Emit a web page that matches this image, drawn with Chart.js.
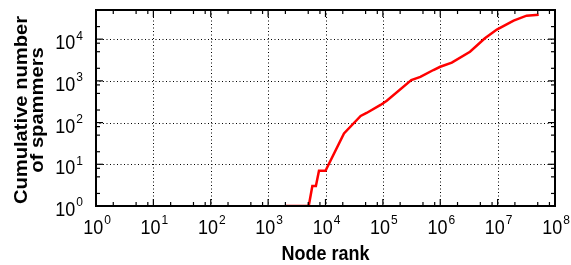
<!DOCTYPE html>
<html lang="en">
<head>
    <meta charset="UTF-8">
    <title>Cumulative number of spammers by node rank</title>
    <script src="https://cdn.jsdelivr.net/npm/chart.js"></script>
    <style>
        html, body {
            margin: 0;
            padding: 0;
            background: #ffffff;
        }
        #rankChart {
            display: block;
        }
    </style>
</head>
<body>
    <canvas id="rankChart" width="571" height="265"></canvas>
    <script>
        // values
        const nodeRank = [2000, 5100, 5900, 6800, 7700, 10000, 21000, 41000, 52000, 91000, 117000,
            313000, 450000, 760000, 1000000, 1590000, 3300000, 6000000, 9700000, 19000000, 32000000, 52000000];
        const spammers = [1, 1, 3, 3, 7, 7, 55, 144, 170, 265, 335,
            1040, 1240, 1820, 2180, 2740, 5000, 10500, 17000, 27800, 36500, 38500];

        const xExponents = [0, 1, 2, 3, 4, 5, 6, 7, 8];
        const yExponents = [0, 1, 2, 3, 4];
        const minorSteps = [2, 5, 8];

        const FONT = '"Liberation Sans", Arial, Helvetica, sans-serif';
        const STRETCH = 1.12;

        function drawPower(ctx, x, baseline, exp, align) {
            ctx.save();
            ctx.font = '18px ' + FONT;
            const wBase = ctx.measureText('10').width;
            ctx.font = '12px ' + FONT;
            const wExp = ctx.measureText(String(exp)).width;
            const total = wBase + 1 + wExp;
            let left = x - total / 2 + 1;
            if (align === 'right') left = x - total;
            ctx.translate(left, baseline);
            ctx.scale(1, STRETCH);
            ctx.fillStyle = '#000';
            ctx.textAlign = 'left';
            ctx.textBaseline = 'alphabetic';
            ctx.font = '18px ' + FONT;
            ctx.fillText('10', 0, 0);
            ctx.font = '12px ' + FONT;
            ctx.fillText(String(exp), wBase + 1, -8.5);
            ctx.restore();
        }

        const frame = {
            id: 'frame',
            beforeDatasetsDraw(chart) {
                const ctx = chart.ctx;
                const a = chart.chartArea;
                const xs = chart.scales.x, ys = chart.scales.y;
                ctx.save();
                ctx.strokeStyle = '#000';
                ctx.lineWidth = 1;
                ctx.setLineDash([1, 2.5]);
                xExponents.slice(1, -1).forEach(e => {
                    const px = Math.round(xs.getPixelForValue(Math.pow(10, e))) + 0.5;
                    ctx.beginPath();
                    ctx.moveTo(px, a.top);
                    ctx.lineTo(px, a.bottom);
                    ctx.stroke();
                });
                yExponents.slice(1).forEach(e => {
                    const py = Math.round(ys.getPixelForValue(Math.pow(10, e))) + 0.5;
                    ctx.beginPath();
                    ctx.moveTo(a.left, py);
                    ctx.lineTo(a.right, py);
                    ctx.stroke();
                });
                ctx.restore();
            },
            afterDatasetsDraw(chart) {
                const ctx = chart.ctx;
                const a = chart.chartArea;
                const xs = chart.scales.x, ys = chart.scales.y;
                ctx.save();
                ctx.strokeStyle = '#000';
                ctx.lineWidth = 1.2;

                // tick marks on all four sides, pointing inward
                const tick = (x1, y1, x2, y2) => {
                    ctx.beginPath();
                    ctx.moveTo(x1, y1);
                    ctx.lineTo(x2, y2);
                    ctx.stroke();
                };
                xExponents.forEach(e => {
                    const vals = [[Math.pow(10, e), 7]];
                    if (e < 8) minorSteps.forEach(m => vals.push([m * Math.pow(10, e), 4]));
                    vals.forEach(([v, len]) => {
                        const px = xs.getPixelForValue(v);
                        tick(px, a.bottom, px, a.bottom - len);
                        tick(px, a.top, px, a.top + len);
                    });
                });
                yExponents.forEach(e => {
                    const vals = [[Math.pow(10, e), 7]];
                    minorSteps.forEach(m => vals.push([m * Math.pow(10, e), 4]));
                    vals.forEach(([v, len]) => {
                        if (v > ys.max) return;
                        const py = ys.getPixelForValue(v);
                        tick(a.left, py, a.left + len, py);
                        tick(a.right, py, a.right - len, py);
                    });
                });

                // frame
                ctx.lineWidth = 2;
                ctx.strokeRect(a.left, a.top, a.right - a.left, a.bottom - a.top);
                ctx.restore();

                // tick labels
                xExponents.forEach(e => {
                    drawPower(ctx, xs.getPixelForValue(Math.pow(10, e)), a.bottom + 28, e, 'center');
                });
                yExponents.forEach(e => {
                    drawPower(ctx, a.left - 13, ys.getPixelForValue(Math.pow(10, e)) + 10, e, 'right');
                });

                // axis titles
                ctx.save();
                ctx.fillStyle = '#000';
                ctx.textAlign = 'center';
                ctx.textBaseline = 'alphabetic';
                ctx.font = 'bold 18px ' + FONT;
                ctx.save();
                ctx.translate((a.left + a.right) / 2, 260);
                ctx.scale(1, STRETCH);
                ctx.fillText('Node rank', 0, 0);
                ctx.restore();

                ctx.translate(0, (a.top + a.bottom) / 2 + 2);
                ctx.rotate(-Math.PI / 2);
                ctx.scale(STRETCH, 1);
                ctx.fillText('Cumulative number', 0, 27);
                ctx.fillText('of spammers', 0, 43);
                ctx.restore();
            }
        };

        new Chart(document.getElementById('rankChart'), {
            type: 'line',
            data: {
                datasets: [{
                    data: nodeRank.map((r, i) => ({ x: r, y: spammers[i] })),
                    borderColor: '#ff0000',
                    borderWidth: 2.5,
                    pointRadius: 0,
                    tension: 0,
                    fill: false
                }]
            },
            options: {
                responsive: false,
                animation: false,
                layout: {
                    padding: { left: 96, right: 16, top: 10, bottom: 59 }
                },
                plugins: {
                    legend: { display: false },
                    tooltip: { enabled: false }
                },
                scales: {
                    x: { type: 'logarithmic', min: 1, max: 1e8, display: false },
                    y: { type: 'logarithmic', min: 1, max: 5e4, display: false }
                }
            },
            plugins: [frame]
        });
    </script>
</body>
</html>
